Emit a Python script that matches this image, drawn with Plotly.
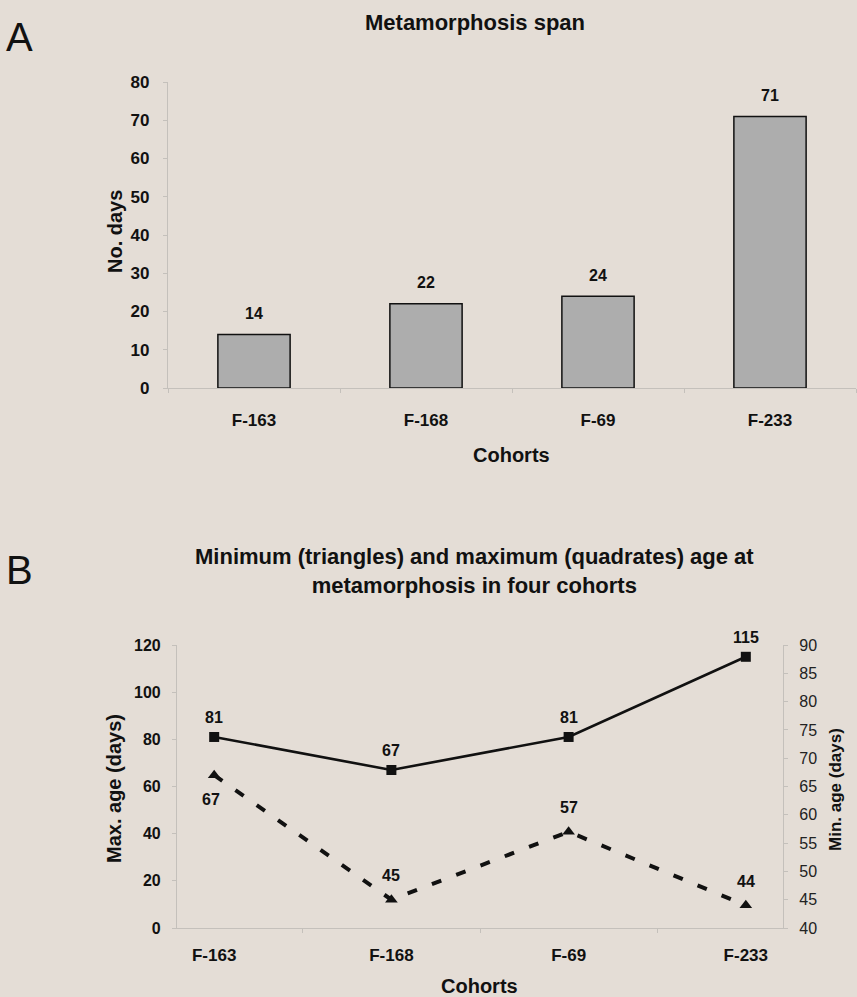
import plotly.graph_objects as go

# Panel A data: metamorphosis span per cohort
cohorts = ["F-163", "F-168", "F-69", "F-233"]
span_days = [14, 22, 24, 71]

# Panel B data: max (left axis) and min (right axis) age at metamorphosis
max_age = [81, 67, 81, 115]
min_age = [67, 45, 57, 44]
min_label_above = [False, True, True, True]

BG = "#e4ddd6"
AXIS = "#c4c0bb"
FONT = "Liberation Sans, Arial, sans-serif"
INK = "#111111"
W, H = 857, 997


def py(px):
    """Convert a pixel row to paper y."""
    return 1 - px / H


def px_x(px):
    return px / W


def bold(size):
    return dict(family=FONT, size=size, color=INK, weight="bold")


fig = go.Figure()

# ---- Panel A: bars ----
fig.add_trace(go.Bar(
    x=cohorts, y=span_days, xaxis="x", yaxis="y",
    marker=dict(color="#adadad", line=dict(color=INK, width=1.5)),
    width=0.42, showlegend=False,
))

# ---- Panel B: lines ----
fig.add_trace(go.Scatter(
    x=cohorts, y=max_age, xaxis="x2", yaxis="y2", mode="lines+markers",
    line=dict(color=INK, width=2.6),
    marker=dict(symbol="square", size=10, color=INK),
    cliponaxis=False, showlegend=False,
))
fig.add_trace(go.Scatter(
    x=cohorts, y=min_age, xaxis="x2", yaxis="y3", mode="lines+markers",
    line=dict(color=INK, width=4, dash="10px,16px"),
    marker=dict(symbol="triangle-up", size=11, color=INK),
    cliponaxis=False, showlegend=False,
))

common = dict(showgrid=False, zeroline=False, showline=True, linecolor=AXIS,
              linewidth=1.2, ticks="outside", ticklen=4, tickcolor=AXIS,
              automargin=False)

fig.update_layout(
    width=W, height=H, margin=dict(l=0, r=0, t=0, b=0),
    paper_bgcolor=BG, plot_bgcolor=BG,
    xaxis=dict(domain=[px_x(168), px_x(856)], anchor="y", type="category",
               tickson="boundaries", tickfont=bold(17), ticklabelstandoff=16,
               **common),
    yaxis=dict(domain=[py(388), py(82)], anchor="x", range=[0, 80], dtick=10,
               tickfont=bold(17), ticklabelstandoff=10, **common),
    xaxis2=dict(domain=[px_x(177), px_x(783)], anchor="y2", type="category",
                tickson="boundaries", tickfont=bold(17), ticklabelstandoff=11,
                **common),
    yaxis2=dict(domain=[py(928), py(645)], anchor="x2", range=[0, 120], dtick=20,
                tickfont=bold(16), ticklabelstandoff=8, **common),
    yaxis3=dict(domain=[py(928), py(645)], anchor="x2", overlaying="y2",
                side="right", range=[40, 90], dtick=5,
                tickfont=dict(family=FONT, size=16, color="#222222"),
                ticklabelstandoff=8, **common),
)

ann = [
    dict(text="A", x=px_x(4), y=py(37), xanchor="left", yanchor="middle",
         font=dict(family=FONT, size=40, color=INK)),
    dict(text="B", x=px_x(4), y=py(570), xanchor="left", yanchor="middle",
         font=dict(family=FONT, size=40, color=INK)),
    dict(text="Metamorphosis span", x=px_x(475), y=py(22), xanchor="center",
         yanchor="middle", font=bold(22)),
    dict(text="Minimum (triangles) and maximum (quadrates) age at<br>metamorphosis in four cohorts",
         x=px_x(474), y=py(571), xanchor="center", yanchor="middle",
         font=bold(22)),
    dict(text="No. days", x=px_x(115), y=py(232), xanchor="center", yanchor="middle",
         textangle=-90, font=bold(20)),
    dict(text="Cohorts", x=px_x(512), y=py(455), xanchor="center", yanchor="middle",
         font=bold(20)),
    dict(text="Max. age (days)", x=px_x(114), y=py(789), xanchor="center", yanchor="middle",
         textangle=-90, font=bold(20)),
    dict(text="Min. age (days)", x=px_x(835), y=py(790), xanchor="center", yanchor="middle",
         textangle=-90, font=bold(17)),
    dict(text="Cohorts", x=px_x(480), y=py(986), xanchor="center", yanchor="middle",
         font=bold(20)),
]
for a in ann:
    a.update(xref="paper", yref="paper", showarrow=False)

# Value labels, each placed at its own data point
for c, v in zip(cohorts, span_days):
    ann.append(dict(text=str(v), x=c, y=v, xref="x", yref="y", showarrow=False,
                    yanchor="middle", yshift=21, font=bold(16)))
for c, v in zip(cohorts, max_age):
    ann.append(dict(text=str(v), x=c, y=v, xref="x2", yref="y2", showarrow=False,
                    yanchor="middle", yshift=19, font=bold(16)))
for c, v, above in zip(cohorts, min_age, min_label_above):
    ann.append(dict(text=str(v), x=c, y=v, xref="x2", yref="y3", showarrow=False,
                    yanchor="middle", yshift=24 if above else -24,
                    xshift=0 if above else -3, font=bold(16)))

fig.update_layout(annotations=ann)

fig.write_html("out.html")
